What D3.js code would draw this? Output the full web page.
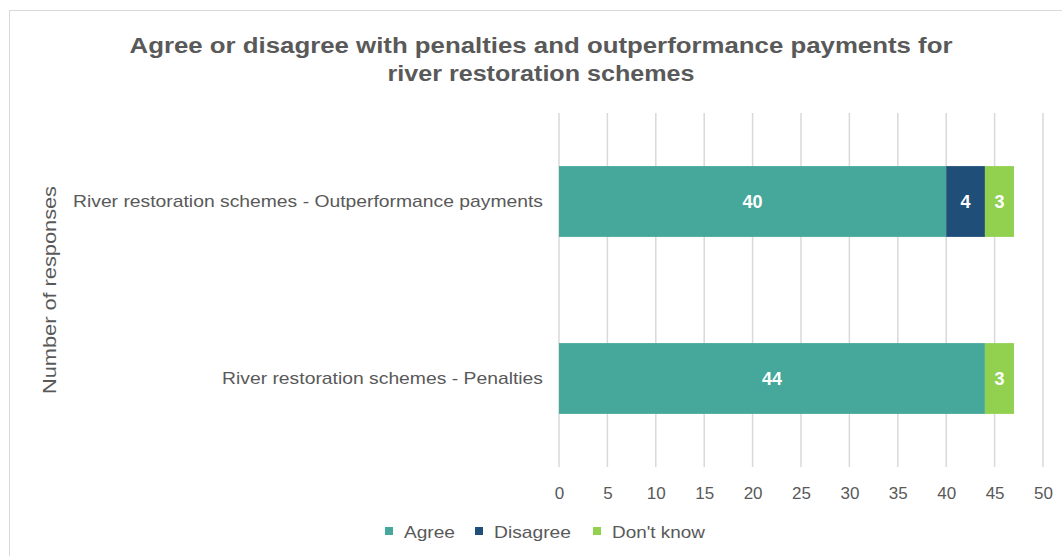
<!DOCTYPE html>
<html>
<head>
<meta charset="utf-8">
<script src="https://cdn.jsdelivr.net/npm/d3@7"></script>
<style>
  body { margin: 0; background: #fff; }
  text { font-family: "Liberation Sans", Arial, sans-serif; }
</style>
</head>
<body>
<svg id="chart" width="1062" height="556"></svg>
<script>
// chart data
const categories = ["River restoration schemes - Outperformance payments", "River restoration schemes - Penalties"];
const seriesNames = ["Agree", "Disagree", "Don't know"];
const agree = [40, 44];
const disagree = [4, 0];
const dontKnow = [3, 3];
const xTicks = [0, 5, 10, 15, 20, 25, 30, 35, 40, 45, 50];
const colors = ["#46a89b", "#1f4e79", "#92d050"];

const width = 1062, height = 556;
const margin = { top: 113, right: 19, bottom: 89, left: 559 };

const svg = d3.select("#chart");

// outer chart border
svg.append("rect")
  .attr("x", 9.5).attr("y", 10.5)
  .attr("width", 1070).attr("height", 570)
  .attr("fill", "none").attr("stroke", "#d9d9d9");

const rows = categories.map((c, i) => ({
  cat: c, "Agree": agree[i], "Disagree": disagree[i], "Don't know": dontKnow[i]
}));
const stacked = d3.stack().keys(seriesNames)(rows);

const x = d3.scaleLinear().domain([0, 50]).range([margin.left, width - margin.right]);
const y = d3.scaleBand().domain(categories)
  .range([margin.top, height - margin.bottom])
  .paddingInner(0.6).paddingOuter(0.3);

// gridlines
svg.append("g")
  .selectAll("line")
  .data(xTicks)
  .join("line")
  .attr("x1", d => x(d)).attr("x2", d => x(d))
  .attr("y1", margin.top).attr("y2", height - margin.bottom)
  .attr("stroke", "#d9d9d9").attr("stroke-width", 1.5);

// bars
const groups = svg.append("g")
  .selectAll("g")
  .data(stacked)
  .join("g")
  .attr("fill", (d, i) => colors[i]);

groups.selectAll("rect")
  .data(d => d.map(v => ({ v, key: d.key })))
  .join("rect")
  .attr("x", d => x(d.v[0]))
  .attr("y", d => y(d.v.data.cat))
  .attr("width", d => x(d.v[1]) - x(d.v[0]))
  .attr("height", y.bandwidth());

// value labels
groups.selectAll("text")
  .data(d => d.filter(v => v[1] - v[0] > 0))
  .join("text")
  .attr("x", d => (x(d[0]) + x(d[1])) / 2)
  .attr("y", d => y(d.data.cat) + y.bandwidth() / 2)
  .attr("dy", "0.35em")
  .attr("text-anchor", "middle")
  .attr("fill", "#fff")
  .style("font-size", "18px")
  .style("font-weight", "bold")
  .text(d => d[1] - d[0]);

// x axis labels
const xAxis = svg.append("g")
  .attr("transform", `translate(0,${height - margin.bottom})`)
  .call(d3.axisBottom(x).tickValues(xTicks).tickSize(0).tickPadding(20));
xAxis.select(".domain").remove();
xAxis.selectAll("text")
  .style("font-size", "17px")
  .style("font-family", "'Liberation Sans', Arial, sans-serif")
  .attr("fill", "#595959");

// y axis labels (the source is a bit wider than the font, so stretch to fit)
const catWidths = [470, 321];
const yAxis = svg.append("g")
  .attr("transform", `translate(${margin.left},0)`)
  .call(d3.axisLeft(y).tickSize(0).tickPadding(16));
yAxis.select(".domain").remove();
yAxis.selectAll("text")
  .style("font-size", "17px")
  .style("font-family", "'Liberation Sans', Arial, sans-serif")
  .attr("fill", "#595959")
  .attr("textLength", (d, i) => catWidths[i])
  .attr("lengthAdjust", "spacingAndGlyphs");

// axis title
svg.append("text")
  .attr("transform", "translate(56,290) rotate(-90)")
  .attr("text-anchor", "middle")
  .attr("fill", "#595959")
  .style("font-size", "18px")
  .attr("textLength", 208)
  .attr("lengthAdjust", "spacingAndGlyphs")
  .text("Number of responses");

// title
const title = svg.append("text")
  .attr("text-anchor", "middle")
  .attr("fill", "#595959")
  .style("font-size", "22px")
  .style("font-weight", "bold");
title.append("tspan").attr("x", 541).attr("y", 53)
  .attr("textLength", 823).attr("lengthAdjust", "spacingAndGlyphs")
  .text("Agree or disagree with penalties and outperformance payments for");
title.append("tspan").attr("x", 541).attr("y", 81)
  .attr("textLength", 307).attr("lengthAdjust", "spacingAndGlyphs")
  .text("river restoration schemes");

// legend
const legendX = [385, 475, 593];
const legendW = [51, 77, 93];
const legend = svg.append("g")
  .selectAll("g")
  .data(seriesNames)
  .join("g")
  .attr("transform", (d, i) => `translate(${legendX[i]},532)`);
legend.append("rect")
  .attr("x", 0).attr("y", -5)
  .attr("width", 8).attr("height", 8)
  .attr("fill", (d, i) => colors[i]);
legend.append("text")
  .attr("x", 19).attr("dy", "0.35em")
  .attr("fill", "#595959")
  .style("font-size", "17px")
  .attr("textLength", (d, i) => legendW[i])
  .attr("lengthAdjust", "spacingAndGlyphs")
  .text(d => d);
</script>
</body>
</html>
